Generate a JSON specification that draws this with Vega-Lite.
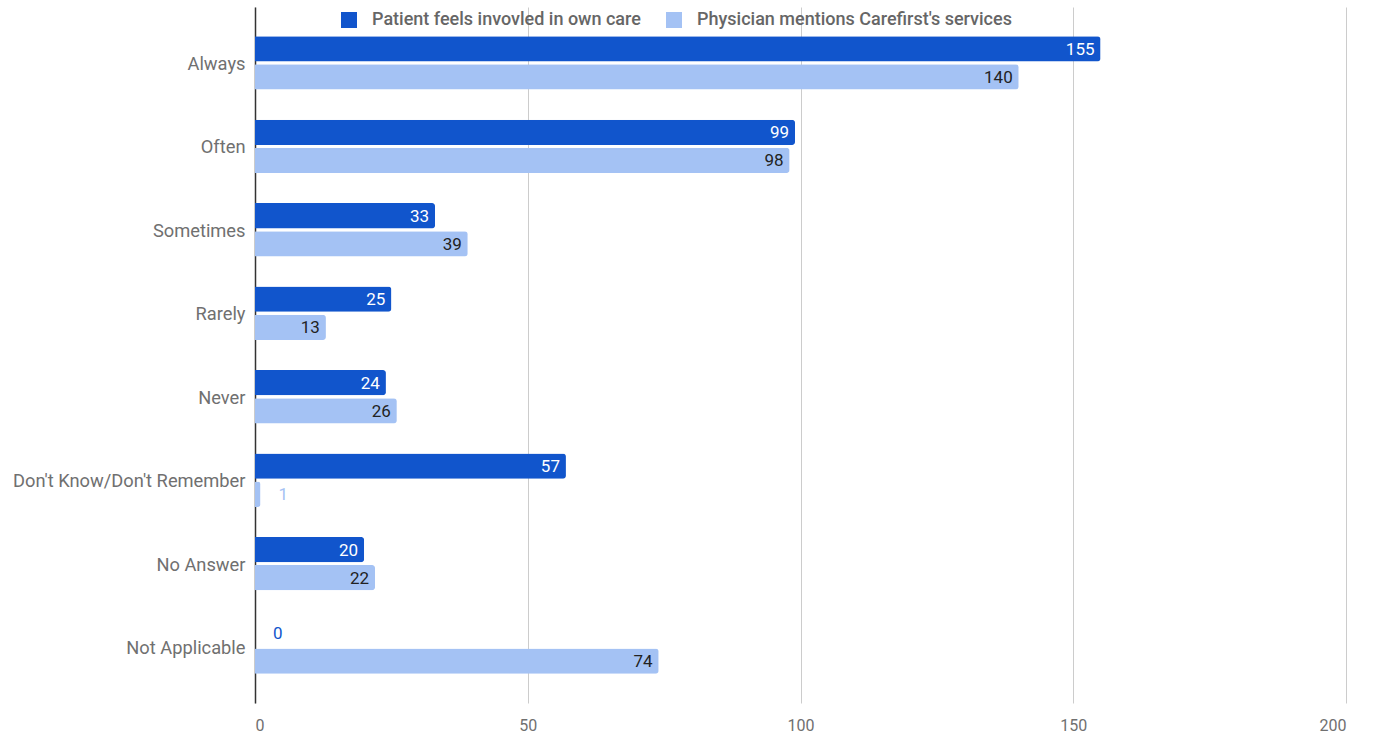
{
  "$schema": "https://vega.github.io/schema/vega-lite/v6.json",
  "autosize": {"type": "none"},
  "padding": {"left": 255, "top": 7, "right": 30, "bottom": 32},
  "width": 1091,
  "height": 696,
  "background": "white",
  "config": {
    "font": "Roboto",
    "view": {"stroke": null}
  },
  "data": {
    "values": [
      {"category": "Always", "series": "Patient feels invovled in own care", "value": 155},
      {"category": "Always", "series": "Physician mentions Carefirst's services", "value": 140},
      {"category": "Often", "series": "Patient feels invovled in own care", "value": 99},
      {"category": "Often", "series": "Physician mentions Carefirst's services", "value": 98},
      {"category": "Sometimes", "series": "Patient feels invovled in own care", "value": 33},
      {"category": "Sometimes", "series": "Physician mentions Carefirst's services", "value": 39},
      {"category": "Rarely", "series": "Patient feels invovled in own care", "value": 25},
      {"category": "Rarely", "series": "Physician mentions Carefirst's services", "value": 13},
      {"category": "Never", "series": "Patient feels invovled in own care", "value": 24},
      {"category": "Never", "series": "Physician mentions Carefirst's services", "value": 26},
      {"category": "Don't Know/Don't Remember", "series": "Patient feels invovled in own care", "value": 57},
      {"category": "Don't Know/Don't Remember", "series": "Physician mentions Carefirst's services", "value": 1},
      {"category": "No Answer", "series": "Patient feels invovled in own care", "value": 20},
      {"category": "No Answer", "series": "Physician mentions Carefirst's services", "value": 22},
      {"category": "Not Applicable", "series": "Patient feels invovled in own care", "value": 0},
      {"category": "Not Applicable", "series": "Physician mentions Carefirst's services", "value": 74}
    ]
  },
  "encoding": {
    "y": {
      "field": "category",
      "type": "nominal",
      "sort": null,
      "scale": {"paddingInner": 0.36, "paddingOuter": 0.35},
      "axis": {
        "title": null,
        "ticks": false,
        "domain": true,
        "domainColor": "#333333",
        "domainWidth": 1.5,
        "labelPadding": 10,
        "labelOffset": 2,
        "labelFontSize": 18.3,
        "labelLimit": 400,
        "labelColor": "#707070",
        "labelFont": "Roboto"
      }
    },
    "yOffset": {
      "field": "series",
      "type": "nominal",
      "sort": ["Patient feels invovled in own care", "Physician mentions Carefirst's services"],
      "scale": {"paddingInner": 0.1, "paddingOuter": 0}
    },
    "x": {
      "field": "value",
      "type": "quantitative",
      "scale": {"domain": [0, 200]},
      "axis": {
        "title": null,
        "values": [0, 50, 100, 150, 200],
        "domain": false,
        "ticks": false,
        "grid": true,
        "gridColor": "#cccccc",
        "labelPadding": 14,
        "labelFontSize": 16,
        "labelColor": "#707070",
        "labelFont": "Roboto"
      }
    }
  },
  "layer": [
    {
      "mark": {"type": "bar", "cornerRadiusEnd": 3},
      "encoding": {
        "color": {
          "field": "series",
          "type": "nominal",
          "sort": ["Patient feels invovled in own care", "Physician mentions Carefirst's services"],
          "scale": {
            "domain": ["Patient feels invovled in own care", "Physician mentions Carefirst's services"],
            "range": ["#1155cc", "#a4c2f4"]
          },
          "legend": {
            "title": null,
            "orient": "none",
            "direction": "horizontal",
            "legendX": 85,
            "legendY": 4,
            "symbolType": "square",
            "symbolSize": 256,
            "symbolStrokeWidth": 0,
            "symbolOpacity": 1,
            "labelFontSize": 18,
            "labelFontWeight": 500,
            "labelLimit": 500,
            "labelColor": "#666666",
            "labelFont": "Roboto",
            "columnPadding": 24,
            "labelOffset": 14
          }
        }
      }
    },
    {
      "transform": [{"filter": "datum.value >= 5"}],
      "mark": {"type": "text", "align": "right", "baseline": "middle", "dx": -6, "dy": 1, "fontSize": 17, "font": "Roboto"},
      "encoding": {
        "text": {"field": "value", "type": "quantitative"},
        "color": {
          "condition": {"test": "datum.series === 'Patient feels invovled in own care'", "value": "#ffffff"},
          "value": "#222222"
        }
      }
    },
    {
      "transform": [{"filter": "datum.value < 5"}],
      "mark": {"type": "text", "align": "left", "baseline": "middle", "dx": 18, "dy": 1, "fontSize": 17, "font": "Roboto"},
      "encoding": {
        "text": {"field": "value", "type": "quantitative"},
        "color": {
          "condition": {"test": "datum.series === 'Patient feels invovled in own care'", "value": "#1155cc"},
          "value": "#a4c2f4"
        }
      }
    }
  ]
}
